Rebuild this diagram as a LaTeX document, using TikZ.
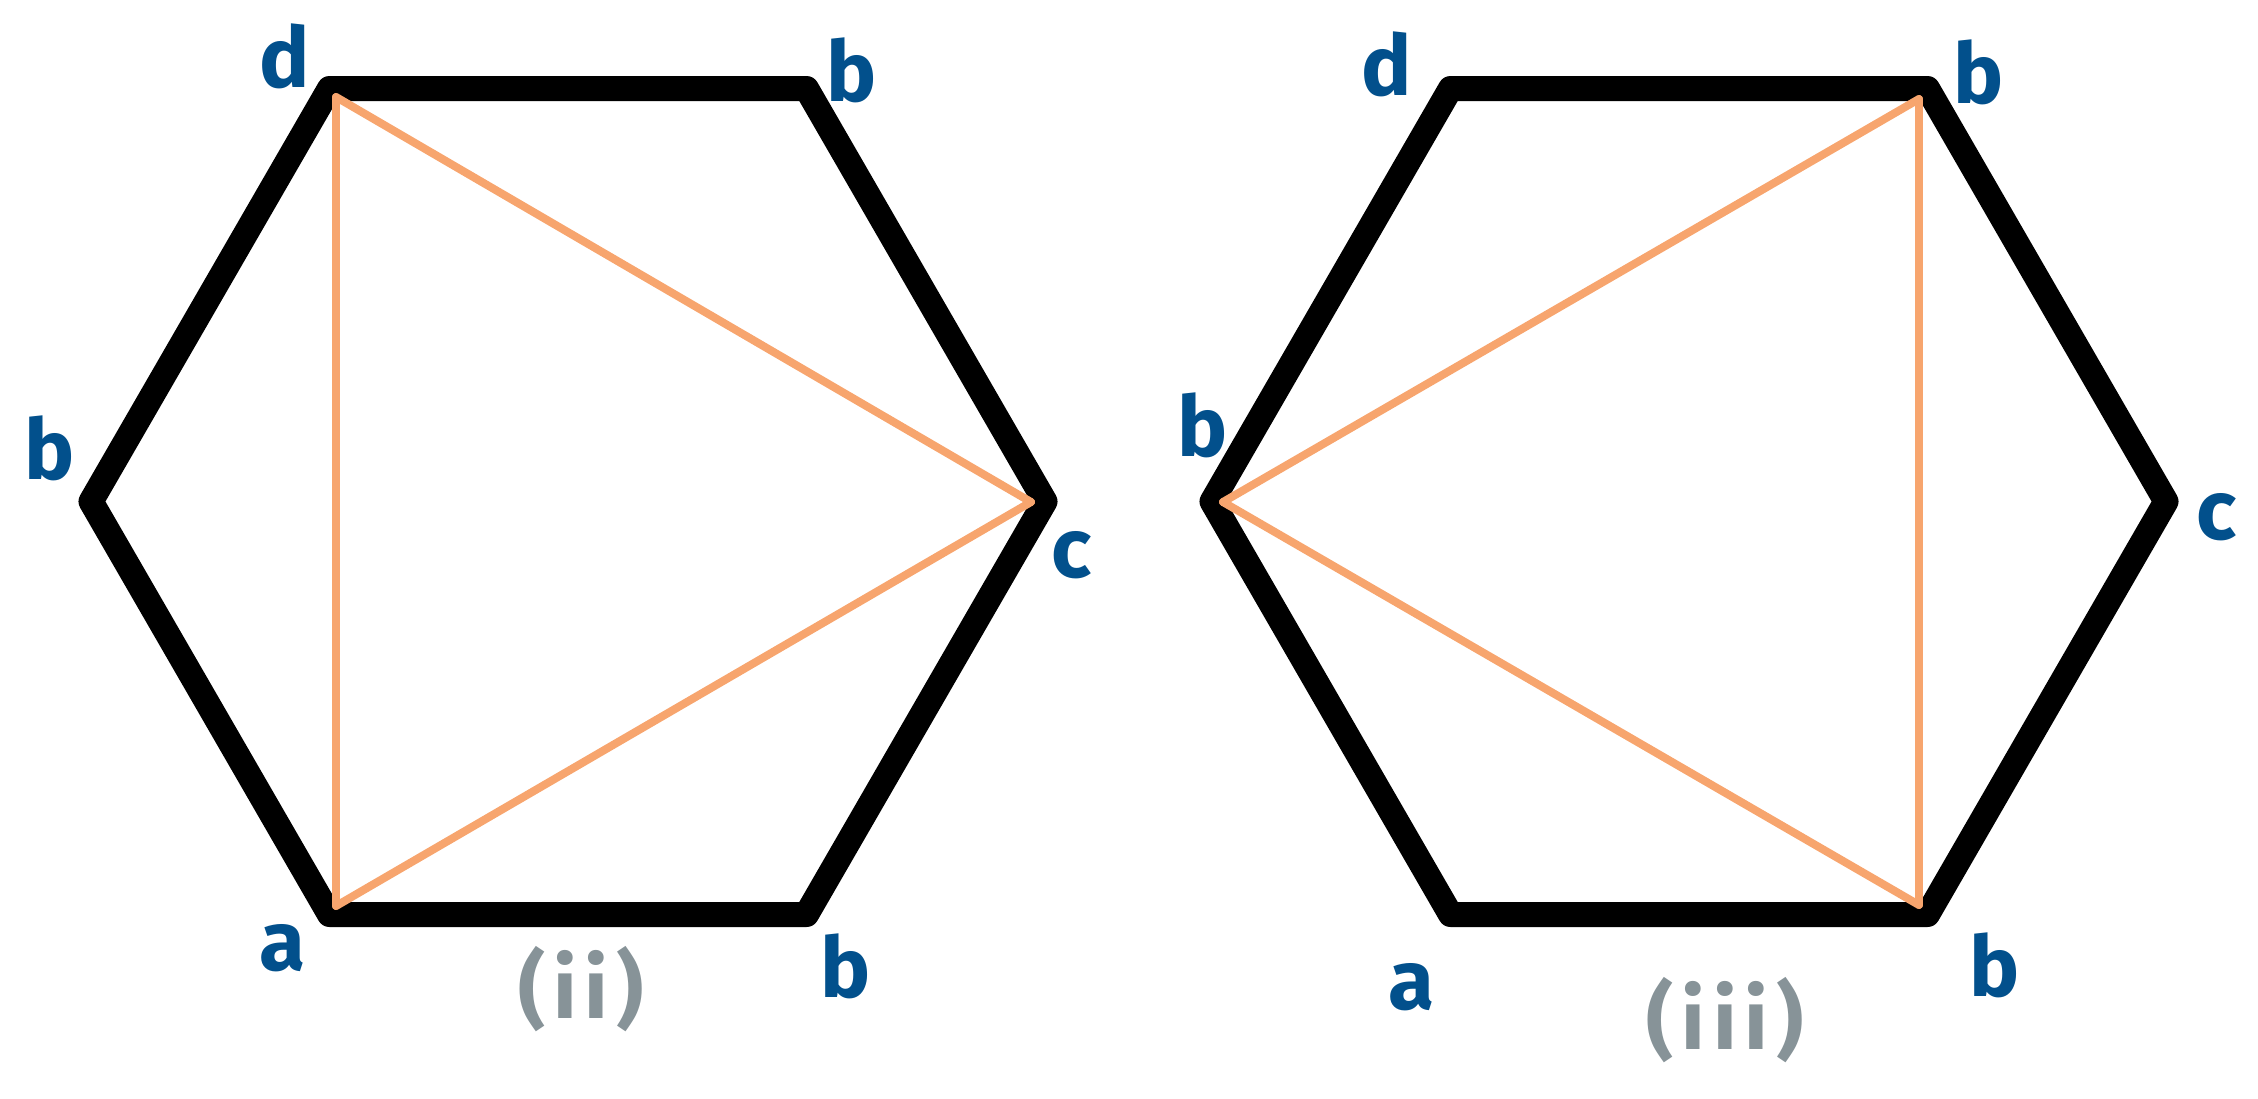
\documentclass[tikz,border=0pt]{standalone}
\usepackage{fontspec}
\setmainfont{Fira Sans}
\definecolor{orangeline}{RGB}{247,165,110}
\definecolor{labelblue}{RGB}{2,80,140}
\definecolor{captiongray}{RGB}{135,147,152}
\begin{document}
\begin{tikzpicture}[x=0.5pt,y=-0.5pt,
  hexline/.style={line width=12.5pt, line join=round, draw=black},
  diagline/.style={line width=4pt, draw=orangeline, line cap=round, line join=round},
  vlabel/.style={text=labelblue, font=\fontsize{42}{50}\selectfont\bfseries, inner sep=0pt},
  caption/.style={text=captiongray, font=\fontsize{42}{50}\selectfont\bfseries, inner sep=0pt}]
\useasboundingbox (0,0) rectangle (2258,1098);
% left hexagon
\coordinate (LhL)  at (91,501.5);
\coordinate (LhTL) at (329.5,88.5);
\coordinate (LhTR) at (806.5,88.5);
\coordinate (LhR)  at (1045,501.5);
\coordinate (LhBR) at (806.5,914.5);
\coordinate (LhBL) at (329.5,914.5);
\draw[hexline] (LhL) -- (LhTL) -- (LhTR) -- (LhR) -- (LhBR) -- (LhBL) -- cycle;
% right hexagon
\coordinate (RhL)  at (1212,501.5);
\coordinate (RhTL) at (1450.5,88.5);
\coordinate (RhTR) at (1927.5,88.5);
\coordinate (RhR)  at (2166,501.5);
\coordinate (RhBR) at (1927.5,914.5);
\coordinate (RhBL) at (1450.5,914.5);
\draw[hexline] (RhL) -- (RhTL) -- (RhTR) -- (RhR) -- (RhBR) -- (RhBL) -- cycle;
% orange diagonals, left
\coordinate (LoT) at (336,97);
\coordinate (LoB) at (336,906);
\coordinate (LoR) at (1031,502);
\draw[diagline] (LoT) -- (LoB);
\draw[diagline] (LoT) -- (LoR);
\draw[diagline] (LoR) -- (LoB);
% orange diagonals, right
\coordinate (RoL) at (1223,502);
\coordinate (RoT) at (1919,99);
\coordinate (RoB) at (1919,905);
\draw[diagline] (RoT) -- (RoB);
\draw[diagline] (RoL) -- (RoT);
\draw[diagline] (RoL) -- (RoB);
% labels left
\node[vlabel] (ld)  at (285,56)   {d};
\node[vlabel] (lb1) at (852,70)   {b};
\node[vlabel] (lb2) at (50,448)   {b};
\node[vlabel] (lc)  at (1072,555) {c};
\node[vlabel] (la)  at (283,948)  {a};
\node[vlabel] (lb3) at (846,966)  {b};
\node[caption] (lcap) at (581,989) {(\kern4pt i\kern4pt i\kern4pt)};
% labels right
\node[vlabel] (rd)  at (1387,64)  {d};
\node[vlabel] (rb1) at (1979,72)  {b};
\node[vlabel] (rb2) at (1203,425) {b};
\node[vlabel] (rc)  at (2217,517) {c};
\node[vlabel] (ra)  at (1411,987) {a};
\node[vlabel] (rb3) at (1995,965) {b};
\node[caption] (rcap) at (1725,1020) {(\kern4pt i\kern4pt i\kern4pt i\kern4pt)};
\end{tikzpicture}
\end{document}
